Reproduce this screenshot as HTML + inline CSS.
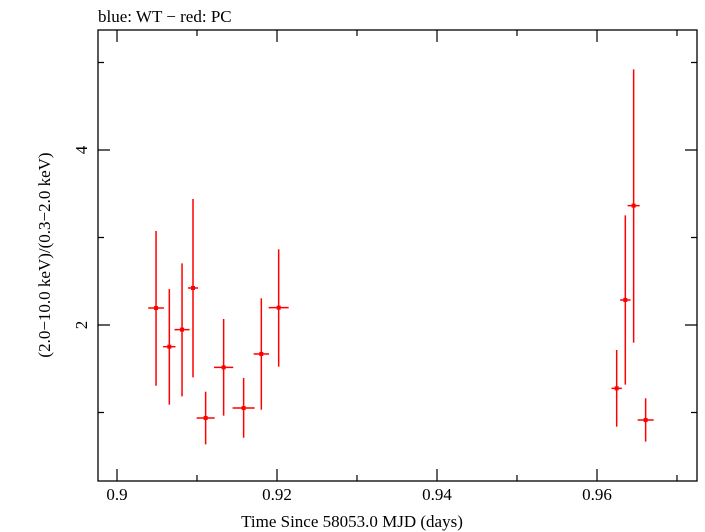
<!DOCTYPE html>
<html><head><meta charset="utf-8"><style>
body{margin:0;background:#fff;}
svg{display:block;font-family:"Liberation Serif",serif;}
</style></head><body>
<svg id="chart" width="705" height="532">
<text x="98" y="22" font-size="17">blue: WT − red: PC</text>
<text x="352" y="527" font-size="17" text-anchor="middle">Time Since 58053.0 MJD (days)</text>
<text transform="translate(50,255) rotate(-90)" font-size="17" text-anchor="middle">(2.0−10.0 keV)/(0.3−2.0 keV)</text>
<rect x="98" y="30" width="599" height="451" fill="none" stroke="#000" stroke-width="1.3"/>
<g id="axes"></g><g id="marks"></g>
</svg>
<script>
const times=[0.90488,0.90654,0.90813,0.9095,0.91108,0.91333,0.91583,0.91804,0.92021,0.96246,0.96354,0.96458,0.96608];
const timeErr=[0.00098,0.00077,0.00094,0.00063,0.00113,0.0012,0.00138,0.00096,0.00125,0.00065,0.00065,0.00075,0.001];
const ratios=[2.194,1.752,1.947,2.423,0.937,1.516,1.051,1.669,2.198,1.276,2.286,3.364,0.914];
const ratioHi=[3.074,2.41,2.705,3.44,1.238,2.069,1.394,2.305,2.865,1.714,3.253,4.922,1.162];
const ratioLo=[1.306,1.09,1.185,1.402,0.636,0.964,0.712,1.032,1.524,0.838,1.318,1.798,0.667];
const xTicks=[0.9,0.92,0.94,0.96];
const xTickLabels=["0.9","0.92","0.94","0.96"];
const xMinor=[0.91,0.93,0.95,0.97];
const yTicks=[2,4];
const yTickLabels=["2","4"];
const yMinor=[1,3,5];
const X=v=>117+(v-0.9)*8000;
const Y=v=>500-v*87.5;
const NS="http://www.w3.org/2000/svg";
function mk(tag,attrs,parent){const e=document.createElementNS(NS,tag);for(const k in attrs)e.setAttribute(k,attrs[k]);parent.appendChild(e);return e;}
const ax=document.getElementById('axes'),mg=document.getElementById('marks');
xTicks.forEach((t,i)=>{
  let l=mk('path',{d:`M${X(t)},481v-12M${X(t)},30v12`,stroke:'#000','stroke-width':1.2},ax);
  
  
  let tx=mk('text',{x:X(t),y:500,'font-size':17,'text-anchor':'middle'},ax);tx.textContent=xTickLabels[i];
  
  
});
xMinor.forEach(t=>{
  let l=mk('path',{d:`M${X(t)},481v-6M${X(t)},30v6`,stroke:'#000','stroke-width':1.2},ax);
  
  
});
yTicks.forEach((t,i)=>{
  let l=mk('path',{d:`M98,${Y(t)}h12M697,${Y(t)}h-12`,stroke:'#000','stroke-width':1.2},ax);
  
  
  let tx=mk('text',{x:0,y:0,'font-size':17,'text-anchor':'middle',transform:`translate(87,${Y(t)}) rotate(-90)`},ax);tx.textContent=yTickLabels[i];
  
  
});
yMinor.forEach(t=>{
  let l=mk('path',{d:`M98,${Y(t)}h6M697,${Y(t)}h-6`,stroke:'#000','stroke-width':1.2},ax);
  
  
});
times.forEach((t,i)=>{
  const g=mk('g',{},mg);
  
  
  mk('line',{x1:X(t),x2:X(t),y1:Y(ratioHi[i]),y2:Y(ratioLo[i]),stroke:'#f00','stroke-width':1.5},g);
  mk('line',{x1:X(t-timeErr[i]),x2:X(t+timeErr[i]),y1:Y(ratios[i]),y2:Y(ratios[i]),stroke:'#f00','stroke-width':1.5},g);
  mk('rect',{x:X(t)-2,y:Y(ratios[i])-2,width:4,height:4,fill:'#f00'},g);
});
</script>
</body></html>
